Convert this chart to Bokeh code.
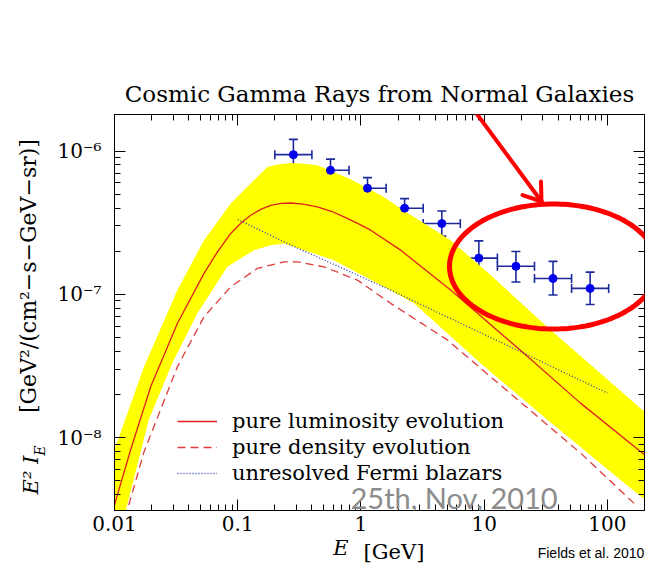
import numpy as np
from bokeh.plotting import figure
from bokeh.models import (Range1d, FixedTicker, CustomJSTickFormatter, LogAxis, Label, Legend,
                          LegendItem, Whisker, TeeHead, ColumnDataSource, PolyAnnotation)
from bokeh.embed import file_html
from bokeh.resources import INLINE

# ---------------- data ----------------
# Fermi EGB data points: bin centres, bin edges, flux and error limits
pts_E = [0.283, 0.566, 1.13, 2.26, 4.53, 9.05, 18.1, 36.2, 72.4]
pts_E_lo = [0.2, 0.4, 0.8, 1.6, 3.2, 6.4, 12.8, 25.6, 51.2]
pts_E_hi = [0.4, 0.8, 1.6, 3.2, 6.4, 12.8, 25.6, 51.2, 102.4]
pts_F = [9.44e-7, 7.34e-7, 5.50e-7, 3.99e-7, 3.12e-7, 1.79e-7, 1.57e-7, 1.29e-7, 1.10e-7]
pts_F_lo = [7.34e-7, 6.02e-7, 4.61e-7, 3.36e-7, 2.55e-7, 1.35e-7, 1.22e-7, 9.9e-8, 8.5e-8]
pts_F_hi = [1.206e-6, 8.79e-7, 6.53e-7, 4.66e-7, 3.82e-7, 2.36e-7, 1.99e-7, 1.70e-7, 1.43e-7]

# pure luminosity evolution (solid red)
lum_E = [0.01, 0.01356, 0.0197, 0.03243, 0.05329, 0.0685, 0.08774, 0.1074, 0.1274, 0.1552,
         0.1852, 0.225, 0.269, 0.34, 0.443, 0.575, 0.728, 0.94, 1.199, 2.099, 5.34, 20.99,
         60.5, 200]
lum_F = [3.4e-9, 8.3e-9, 2.273e-8, 6.28e-8, 1.40e-7, 1.98e-7, 2.66e-7, 3.17e-7, 3.566e-7,
         3.93e-7, 4.185e-7, 4.32e-7, 4.342e-7, 4.26e-7, 4.074e-7, 3.80e-7, 3.470e-7, 3.13e-7,
         2.804e-7, 2.035e-7, 1.071e-7, 3.88e-8, 1.741e-8, 7.60e-9]

# pure density evolution (dashed red)
den_E = [0.0122, 0.01274, 0.01738, 0.03243, 0.05329, 0.08774, 0.1445, 0.2374, 0.3049, 0.501,
         0.935, 1.741, 5.02, 17.41, 60.5, 174.4]
den_F = [2.77e-9, 3.147e-9, 7.98e-9, 3.131e-8, 6.98e-8, 1.129e-7, 1.517e-7, 1.687e-7, 1.687e-7,
         1.557e-7, 1.258e-7, 8.655e-8, 4.81e-8, 1.936e-8, 7.81e-9, 3.318e-9]

# unresolved Fermi blazars (dotted blue)
bz_E = [0.1, 0.253, 1.741, 20.99, 100]
bz_F = [3.33e-7, 2.266e-7, 1.071e-7, 3.88e-8, 2.045e-8]

# uncertainty band (yellow): upper and lower edges
band_hi_E = [0.0095, 0.01738, 0.03243, 0.05329, 0.08774, 0.1274, 0.1741, 0.215, 0.269, 0.34,
             0.443, 0.825, 1.536, 2.099, 5.34, 11.27, 32.5, 200]
band_hi_F = [7.3e-9, 3.131e-8, 1.071e-7, 2.388e-7, 4.30e-7, 5.93e-7, 7.74e-7, 8.10e-7, 8.25e-7,
             8.15e-7, 7.95e-7, 6.35e-7, 4.78e-7, 3.97e-7, 2.388e-7, 1.363e-7, 5.92e-8, 1.515e-8]
band_lo_E = [0.0095, 0.01235, 0.01898, 0.02971, 0.04713, 0.08249, 0.1356, 0.185, 0.2374,
             0.6039, 1.536, 2.69, 9.35, 32.5, 200]
band_lo_F = [1.27e-9, 3.1e-9, 1.332e-8, 3.377e-8, 7.375e-8, 1.557e-7, 2.035e-7, 2.20e-7,
             2.266e-7, 1.733e-7, 1.129e-7, 8.655e-8, 3.307e-8, 1.332e-8, 3.694e-9]

x_major = [0.01, 0.1, 1, 10, 100]
x_tick_labels = ["0.01", "0.1", "1", "10", "100"]
y_major = [1e-8, 1e-7, 1e-6]
y_tick_labels = ["10\u207b\u2078", "10\u207b\u2077", "10\u207b\u2076"]

legend_labels = ["pure luminosity evolution", "pure density evolution",
                 "unresolved Fermi blazars"]
title_text = "Cosmic Gamma Rays from Normal Galaxies"
ylab_main, ylab_sub, ylab_unit = "E\u00b2 I", "E", "[GeV\u00b2/(cm\u00b2\u2212s\u2212GeV\u2212sr)]"
xlab_var, xlab_unit = "E", "[GeV]"
credit_text = "Fields et al. 2010"
date_text = "25th, Nov, 2010"

# ---------------- layout constants ----------------
W, H = 666, 566
FL, FR, FT, FB_PAD = 114, 22, 114, 55
FW, FH = W - FL - FR, H - FT - FB_PAD
FB = H - FB_PAD  # frame bottom in canvas px
SERIF = "DejaVu Serif"

x_lo, x_hi = 0.01, 200
y_lo, y_hi = 3.1e-9, 1.8e-6


def px_to_x(px):
    return 10 ** (np.log10(x_lo) + (px - FL) / FW * np.log10(x_hi / x_lo))


def py_to_y(py):
    return 10 ** (np.log10(y_hi) - (py - FT) / FH * np.log10(y_hi / y_lo))


p = figure(width=W, height=H, x_axis_type="log", y_axis_type="log", title=None,
           x_range=Range1d(x_lo, x_hi), y_range=Range1d(y_lo, y_hi),
           output_backend="svg", toolbar_location=None,
           min_border_left=FL, min_border_right=FR, min_border_top=FT,
           min_border_bottom=FB_PAD)
p.grid.visible = False
p.outline_line_color = "black"
p.outline_line_width = 1
p.background_fill_color = "white"
p.border_fill_color = "white"

x_minor = [m * 10.0 ** e for e in range(-2, 3) for m in range(2, 10) if m * 10.0 ** e < x_hi]
y_minor = [m * 10.0 ** e for e in range(-9, -5) for m in range(2, 10)
           if y_lo < m * 10.0 ** e < y_hi]

lab_code = """
let best = 0, bd = Infinity;
for (let i = 0; i < tk.length; i++) {
  const d = Math.abs(Math.log10(tick) - Math.log10(tk[i]));
  if (d < bd) { bd = d; best = i; }
}
return lb[best];
"""


def style_axis(ax, ticks, minor):
    ax.ticker = FixedTicker(ticks=ticks, minor_ticks=minor)
    ax.axis_line_color = "black"
    ax.major_tick_line_color = "black"
    ax.minor_tick_line_color = "black"
    ax.major_tick_in = 11
    ax.major_tick_out = 0
    ax.minor_tick_in = 6
    ax.minor_tick_out = 0
    ax.major_label_text_font = SERIF
    ax.major_label_text_font_size = "20px"
    ax.major_label_text_color = "black"


def text_axis(ticks, labels, font, size, style="normal", standoff=0, orientation="horizontal"):
    """An axis with no line or ticks, used only to write text outside the frame."""
    return LogAxis(ticker=FixedTicker(ticks=ticks, minor_ticks=[]),
                   formatter=CustomJSTickFormatter(args=dict(tk=ticks, lb=labels), code=lab_code),
                   axis_line_color=None, major_tick_line_color=None, minor_tick_line_color=None,
                   major_tick_in=0, major_tick_out=0, minor_tick_in=0, minor_tick_out=0,
                   major_label_standoff=int(round(standoff)), major_label_text_font=font,
                   major_label_text_font_size=size, major_label_text_font_style=style,
                   major_label_text_color="black", major_label_orientation=orientation)


# bottom axis (ticks + tick labels)
xa = p.xaxis[0]
style_axis(xa, x_major, x_minor)
xa.formatter = CustomJSTickFormatter(args=dict(tk=x_major, lb=x_tick_labels), code=lab_code)
xa.major_label_standoff = 5

# left axis
ya = p.yaxis[0]
style_axis(ya, y_major, y_minor)
ya.formatter = CustomJSTickFormatter(args=dict(tk=y_major, lb=y_tick_labels), code=lab_code)
ya.major_label_standoff = 13
ya.major_label_orientation = "horizontal"

# top axis with the title as its axis label
top = LogAxis()
style_axis(top, x_major, x_minor)
top.formatter = CustomJSTickFormatter(code="return ''")
top.major_label_text_font_size = "1px"
top.major_label_standoff = 0
top.axis_label = title_text
top.axis_label_text_font = SERIF
top.axis_label_text_font_size = "23px"
top.axis_label_text_font_style = "normal"
top.axis_label_text_color = "black"
top.axis_label_standoff = 8
p.add_layout(top, "above")

right = LogAxis()
style_axis(right, y_major, y_minor)
right.formatter = CustomJSTickFormatter(code="return ''")
right.major_label_text_font_size = "1px"
right.major_label_standoff = 0
p.add_layout(right, "right")

# ---- bottom texts: credit, italic E, [GeV] on one row ----
h20, h21, h14 = 23.3, 24.4, 16.3                 # estimated text box heights
xb0 = FB + 5 + h20                               # outer edge of the tick-label row
s_credit = 550.3 - xb0
p.add_layout(text_axis([px_to_x(590.5)], [credit_text], "Liberation Sans", "14px",
                       standoff=s_credit), "below")
xb1 = xb0 + s_credit + h14
s_var = 539 - xb1
p.add_layout(text_axis([px_to_x(340.5)], [xlab_var], SERIF, "21px", "italic",
                       standoff=s_var), "below")
xb2 = xb1 + s_var + h21
p.add_layout(text_axis([px_to_x(393.5)], [xlab_unit], SERIF, "21px", standoff=539 - xb2),
             "below")

# ---- left texts: rotated y label in three styles ----
h22 = 25.6
yl0 = FL - 13 - 41.4                             # outer edge of the y tick labels
s_sub = yl0 - 53.3
p.add_layout(text_axis([py_to_y(451)], [ylab_sub], SERIF, "14px", "italic",
                       standoff=s_sub, orientation="vertical"), "left")
yl1 = yl0 - s_sub - h14
s_main = yl1 - 51
p.add_layout(text_axis([py_to_y(475.5)], [ylab_main], SERIF, "21px", "italic",
                       standoff=s_main, orientation="vertical"), "left")
yl2 = yl1 - s_main - h21
p.add_layout(text_axis([py_to_y(276)], [ylab_unit], SERIF, "22px",
                       standoff=yl2 - 51.2, orientation="vertical"), "left")

# ---------------- glyphs ----------------
band_x = list(band_hi_E) + list(band_lo_E[::-1])
band_y = list(band_hi_F) + list(band_lo_F[::-1])
p.patch(band_x, band_y, fill_color="#ffff00", line_color=None)

r_lum = p.line(lum_E, lum_F, line_color="#e02020", line_width=1.3)
r_den = p.line(den_E, den_F, line_color="#e03a3a", line_width=1.3, line_dash="8 5")
r_bz = p.line(bz_E, bz_F, line_color="#2a3aa8", line_width=1.3, line_dash="1 2")

src = ColumnDataSource(dict(x=pts_E, xlo=pts_E_lo, xhi=pts_E_hi,
                            y=pts_F, ylo=pts_F_lo, yhi=pts_F_hi))
ebar = "#1c2a9c"
p.add_layout(Whisker(source=src, base="y", lower="xlo", upper="xhi", dimension="width",
                     line_color=ebar, line_width=1.6,
                     lower_head=TeeHead(size=9, line_color=ebar, line_width=1.6),
                     upper_head=TeeHead(size=9, line_color=ebar, line_width=1.6)))
p.add_layout(Whisker(source=src, base="x", lower="ylo", upper="yhi", dimension="height",
                     line_color=ebar, line_width=1.6,
                     lower_head=TeeHead(size=9, line_color=ebar, line_width=1.6),
                     upper_head=TeeHead(size=9, line_color=ebar, line_width=1.6)))
p.scatter("x", "y", source=src, size=8, fill_color="#0000ee", line_color="#0000ee")

# ---------------- legend ----------------
legend = Legend(items=[LegendItem(label=legend_labels[0], renderers=[r_lum]),
                       LegendItem(label=legend_labels[1], renderers=[r_den]),
                       LegendItem(label=legend_labels[2], renderers=[r_bz])],
                location=(63, 25), orientation="vertical",
                glyph_width=40, glyph_height=20, label_height=20, label_standoff=15,
                spacing=2, padding=0, margin=0,
                border_line_color=None, background_fill_alpha=0,
                label_text_font=SERIF, label_text_font_size="21px", label_text_color="black")
p.add_layout(legend)

# date stamp of the slide (inside the frame)
p.add_layout(Label(x=350 - FL, y=FB - 497.5, x_units="screen", y_units="screen",
                   text=date_text, text_font="Lato", text_font_size="29px",
                   text_align="left", text_baseline="alphabetic", text_color="#8c8c8c"))

# ---------------- slide overlay: arrow and ellipse ----------------
red = "#ff0000"
a_x0, a_y0, a_x1, a_y1 = 400, 10, 541, 201
ang = np.arctan2(a_y1 - a_y0, a_x1 - a_x0) + np.pi
barb, spread = 20, np.radians(35)


def seg(xa_, ya_, xb_, yb_, lw):
    return PolyAnnotation(xs=[xa_, xb_], ys=[ya_, yb_],
                          xs_units="canvas", ys_units="canvas", level="overlay",
                          fill_alpha=0, line_color=red, line_alpha=1.0, line_width=lw,
                          line_cap="round")


p.add_layout(seg(a_x0, a_y0, a_x1, a_y1, 4))
for sgn in (1, -1):
    p.add_layout(seg(a_x1, a_y1, a_x1 + barb * np.cos(ang + sgn * spread),
                     a_y1 + barb * np.sin(ang + sgn * spread), 4))

t = np.linspace(0, 2 * np.pi, 181)
ell_cx, ell_cy, ell_a, ell_b = 553 - FL, FB - 267, 104, 62.5
p.add_layout(PolyAnnotation(xs=list(ell_cx + ell_a * np.cos(t)), ys=list(ell_cy + ell_b * np.sin(t)),
                            xs_units="screen", ys_units="screen", level="overlay",
                            fill_alpha=0, line_color=red, line_alpha=1.0, line_width=5))

open("out.html", "w").write(file_html(p, INLINE))
